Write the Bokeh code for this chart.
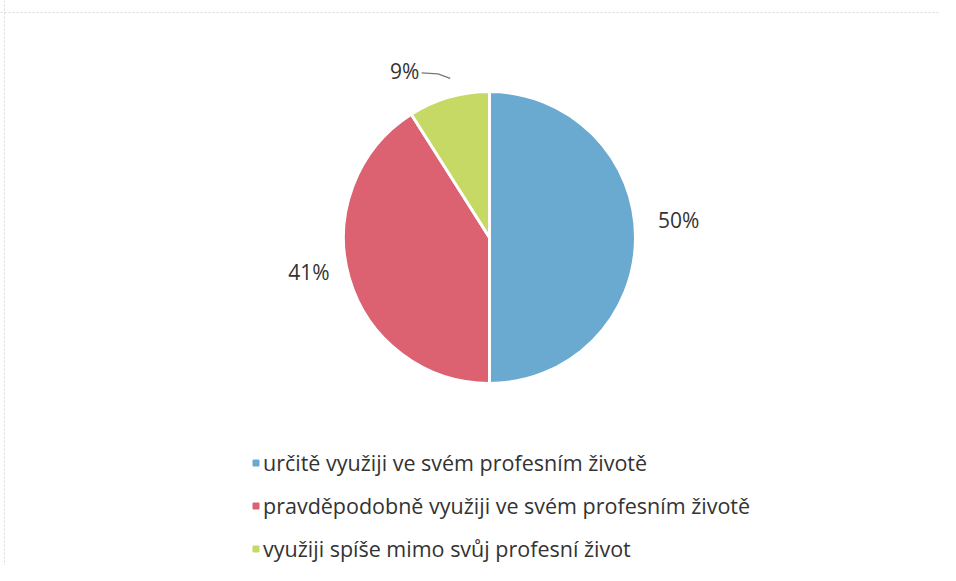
import math
from bokeh.plotting import figure
from bokeh.models import Range1d, Legend, LegendItem, ColumnDataSource, Span
from bokeh.core.properties import value
from bokeh.embed import file_html
from bokeh.resources import INLINE

# ---- data ----
categories = [
    "určitě využiji ve svém profesním životě",
    "pravděpodobně využiji ve svém profesním životě",
    "využiji spíše mimo svůj profesní život",
]
shares = [50, 41, 9]
pct_labels = ["50%", "41%", "9%"]
colors = ["#6aaad0", "#dc6272", "#c6d964"]

FONT = "Open Sans"
W, H = 940, 565

p = figure(width=W, height=H, x_range=Range1d(0, W), y_range=Range1d(0, H),
           output_backend="svg", toolbar_location=None, min_border=0,
           background_fill_color="white", border_fill_color="white")
p.axis.visible = False
p.grid.visible = False
p.outline_line_color = None

# faint scanned frame (top and left)
p.add_layout(Span(location=H - 12, dimension="width", line_color="#d8d8d8",
                  line_width=1, line_dash="2 2"))
p.add_layout(Span(location=4, dimension="height", line_color="#d8d8d8",
                  line_width=1, line_dash="2 2"))

cx, cy, R = 489, 328, 146

total = float(sum(shares))
starts, ends, mids = [], [], []
c = 0.0
for s in shares:
    c0 = c / total
    c1 = (c + s) / total
    c += s
    # clockwise from 12 o'clock -> bokeh anticlockwise angles
    starts.append(math.pi / 2 - 2 * math.pi * c1)
    ends.append(math.pi / 2 - 2 * math.pi * c0)
    mids.append(math.pi / 2 - 2 * math.pi * (c0 + c1) / 2)

src = ColumnDataSource(dict(start=starts, end=ends, color=colors))
p.wedge(x=cx, y=cy, radius=R, start_angle="start", end_angle="end",
        fill_color="color", line_color="white", line_width=3, source=src)

# data labels (radial distance, angle nudge in degrees)
label_place = [(190, 5.3), (184, -5.3), (187, 10.8)]
lx, ly = [], []
for m, (rd, nud) in zip(mids, label_place):
    a = m + math.radians(nud)
    lx.append(cx + rd * math.cos(a))
    ly.append(cy + rd * math.sin(a))
p.text(x=lx, y=ly, text=pct_labels, text_font=value(FONT), text_font_size="21px",
       text_color="#333333", text_align="center", text_baseline="middle")

# leader line for the small slice
g = 2
x0 = lx[g] + 17
y0 = ly[g] - 2
a_end = mids[g] - math.radians(2)
x1 = cx + (R + 14) * math.cos(a_end)
y1 = cy + (R + 14) * math.sin(a_end)
xs = [x0, (x0 + x1) / 2 + 2, x1]
ys = [y0, y0 - 1, y1 + 4]
p.line(x=xs, y=ys, line_color="#777777", line_width=1.2)

# legend
items = []
for cat, col in zip(categories, colors):
    r = p.scatter(x=[float("nan")], y=[float("nan")], marker="square", size=7,
                  fill_color=col, line_color=col)
    items.append(LegendItem(label=cat, renderers=[r]))
legend = Legend(items=items, location=(248, 2), orientation="vertical",
                glyph_width=15, glyph_height=15, label_standoff=0,
                label_text_font=FONT, label_text_font_size="21.5px",
                label_text_color="#333333", label_height=22, spacing=14,
                padding=0, margin=0, border_line_color=None,
                background_fill_alpha=0)
p.add_layout(legend, "center")

open("out.html", "w").write(file_html(p, INLINE))
